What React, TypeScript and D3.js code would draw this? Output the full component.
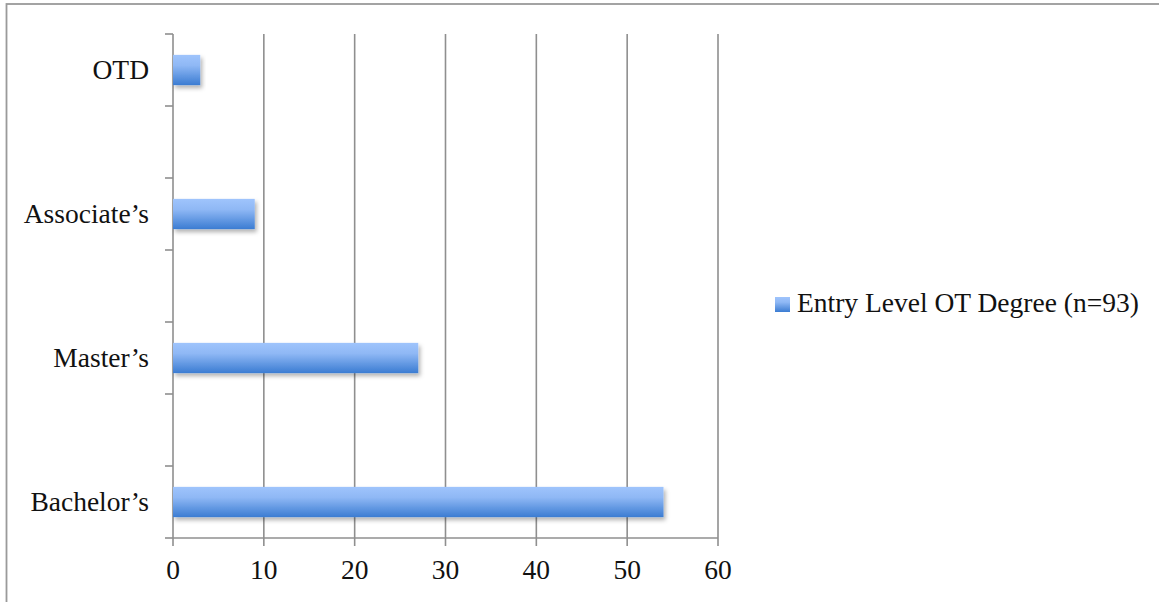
import React from "react";
import * as d3 from "d3";

const categories = ["OTD", "", "Associate\u2019s", "", "Master\u2019s", "", "Bachelor\u2019s"];
const values: (number | null)[] = [3, null, 9, null, 27, null, 54];
const xTicks = [0, 10, 20, 30, 40, 50, 60];
const seriesName = "Entry Level OT Degree (n=93)";

const W = 1159;
const H = 602;
const left = 173;
const right = 718;
const top = 34;
const bottom = 538;
const gridColor = "#8f8f8f";
const font = "'Liberation Serif', 'Times New Roman', serif";

export default function App() {
  const x = d3.scaleLinear().domain([0, 60]).range([left, right]);
  const y = d3.scaleBand<string>().domain(categories.map((_, i) => String(i))).range([top, bottom]).paddingInner(0).paddingOuter(0);
  const bw = y.bandwidth();
  const barH = bw * 0.42;
  const bandEdges = d3.range(categories.length + 1).map((i) => top + i * bw);

  return (
    <svg width={W} height={H} style={{ position: "absolute", left: 0, top: 0, background: "#fff" }}>
      <defs>
        <linearGradient id="barGrad" x1="0" y1="0" x2="0" y2="1">
          <stop offset="0%" stopColor="#9fc4fc" />
          <stop offset="35%" stopColor="#8fb8f5" />
          <stop offset="100%" stopColor="#3b7cd2" />
        </linearGradient>
        <filter id="shadow" x="-10%" y="-30%" width="130%" height="190%">
          <feDropShadow dx="2" dy="3" stdDeviation="2" floodColor="#000" floodOpacity="0.3" />
        </filter>
      </defs>
      <rect x={6.5} y={4} width={W + 10} height={H + 10} fill="none" stroke="#9a9a9a" strokeWidth={1.8} />
      {xTicks.map((t) => (
        <line key={"g" + t} x1={x(t)} x2={x(t)} y1={top} y2={bottom + 8} stroke={gridColor} strokeWidth={1.6} />
      ))}
      <line x1={left} x2={right} y1={bottom} y2={bottom} stroke={gridColor} strokeWidth={1.6} />
      {bandEdges.map((e, i) => (
        <line key={"t" + i} x1={left - 8} x2={left} y1={e} y2={e} stroke={gridColor} strokeWidth={1.6} />
      ))}
      {values.map((v, i) =>
        v == null ? null : (
          <rect
            key={"b" + i}
            x={x(0)}
            y={(y(String(i)) as number) + bw / 2 - barH / 2}
            width={x(v) - x(0)}
            height={barH}
            fill="url(#barGrad)"
            filter="url(#shadow)"
          />
        )
      )}
      {categories.map((c, i) =>
        c ? (
          <text key={"c" + i} x={149} y={(y(String(i)) as number) + bw / 2 + 9} textAnchor="end" fontFamily={font} fontSize={27.5} fill="#111">
            {c}
          </text>
        ) : null
      )}
      {xTicks.map((t) => (
        <text key={"l" + t} x={x(t)} y={579} textAnchor="middle" fontFamily={font} fontSize={27.5} fill="#111">
          {t}
        </text>
      ))}
      <rect x={775} y={297} width={15} height={15} fill="url(#barGrad)" />
      <text x={797} y={312} fontFamily={font} fontSize={27.5} fill="#111">
        {seriesName}
      </text>
    </svg>
  );
}
